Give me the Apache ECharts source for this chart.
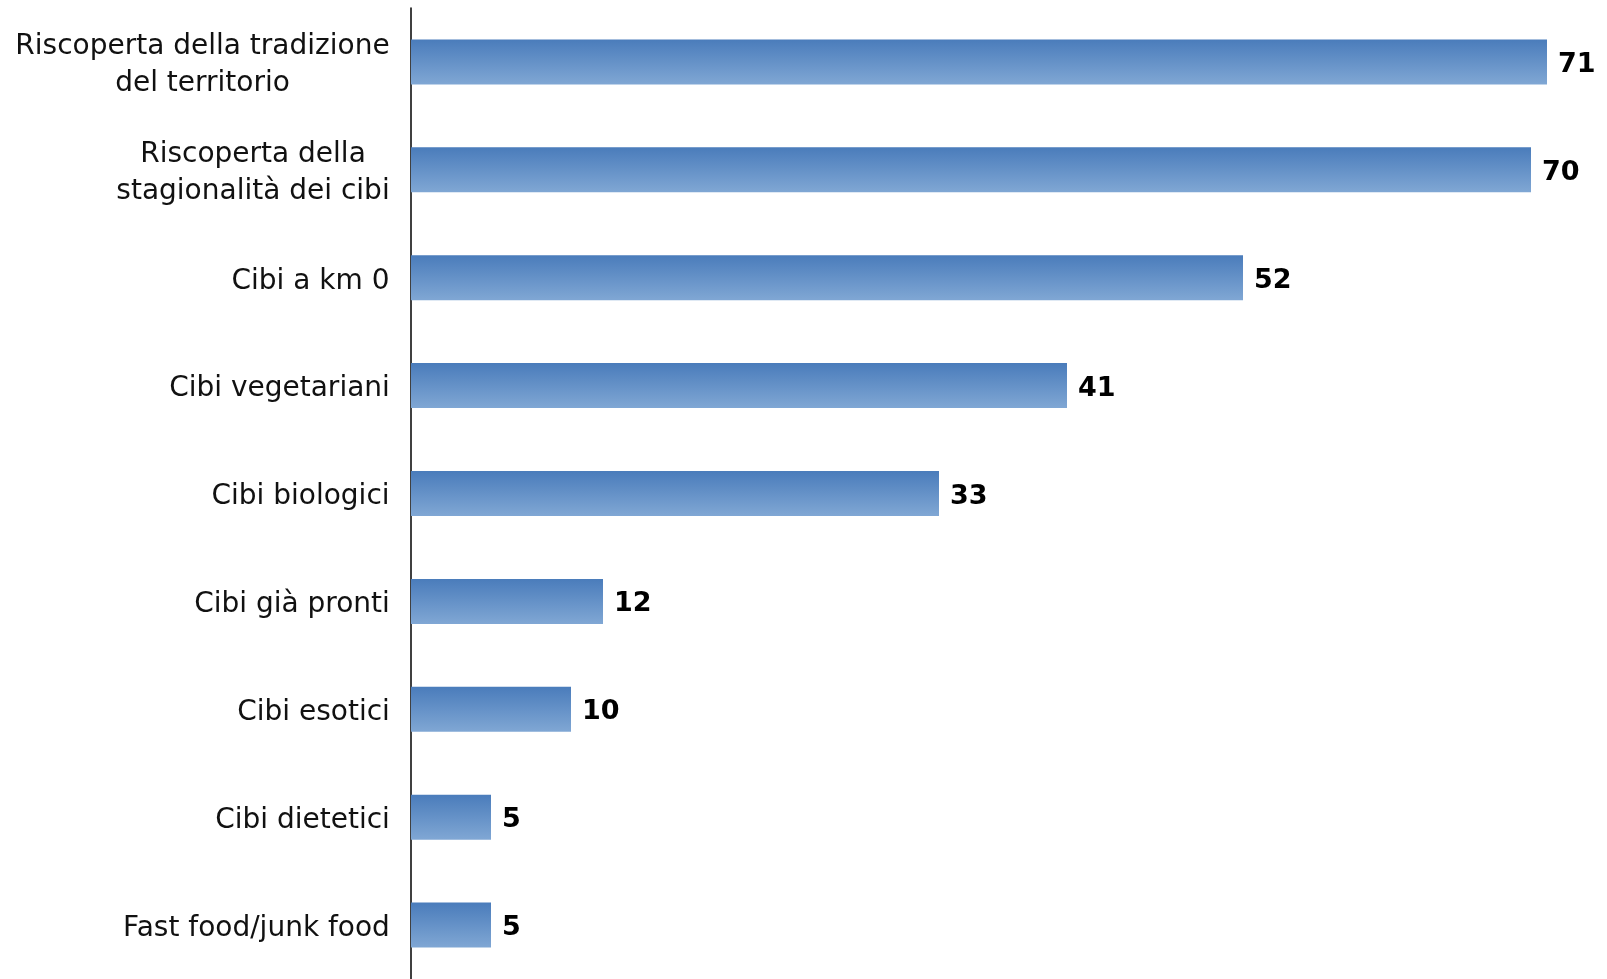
<!DOCTYPE html>
<html>
<head>
<meta charset="utf-8">
<script src="https://cdn.jsdelivr.net/npm/echarts@6/dist/echarts.min.js"></script>
<style>
html,body{margin:0;padding:0;background:#fff;}
#chart{width:1607px;height:979px;}
</style>
</head>
<body>
<div id="chart"></div>
<script>
const categories = [
  "Riscoperta della tradizione\ndel territorio",
  "Riscoperta della\nstagionalità dei cibi",
  "Cibi a km 0",
  "Cibi vegetariani",
  "Cibi biologici",
  "Cibi già pronti",
  "Cibi esotici",
  "Cibi dietetici",
  "Fast food/junk food"
];
const values = [71, 70, 52, 41, 33, 12, 10, 5, 5];

const FONT = "'DejaVu Sans', Verdana, sans-serif";
const LABEL_SIZE = 28;

// measure text to centre lines of multi-line labels inside a right-aligned block
const ctx = document.createElement('canvas').getContext('2d');
ctx.font = LABEL_SIZE + 'px ' + FONT;
const rich = {};
const fmtMap = {};
categories.forEach((c, i) => {
  const lines = c.split('\n');
  const w = Math.ceil(Math.max(...lines.map(l => ctx.measureText(l).width)));
  const key = 'c' + i;
  rich[key] = {width: w, align: 'center', fontSize: LABEL_SIZE, fontFamily: FONT, color: '#111', lineHeight: 37};
  fmtMap[c] = lines.map(l => '{' + key + '|' + l + '}').join('\n');
});

const chart = echarts.init(document.getElementById('chart'));
chart.setOption({
  animation: false,
  grid: {left: 411, top: 8, width: 1136, height: 971},
  xAxis: {
    type: 'value', min: 0, max: 71, show: false
  },
  yAxis: {
    type: 'category', data: categories, inverse: true,
    axisLine: {show: true, lineStyle: {color: '#000', width: 1.5}},
    axisTick: {show: false},
    axisLabel: {
      margin: 21, align: 'right', padding: [7, 0, 0, 0],
      formatter: v => fmtMap[v],
      rich: rich
    },
    splitLine: {show: false}
  },
  series: [{
    type: 'bar', data: values, barWidth: 45,
    itemStyle: {
      color: new echarts.graphic.LinearGradient(0, 0, 0, 1, [
        {offset: 0, color: '#4a7cbb'},
        {offset: 1, color: '#80a7d4'}
      ])
    },
    label: {
      show: true, position: 'right', distance: 11, offset: [0, 3],
      fontFamily: FONT, fontSize: 27, fontWeight: 'bold', color: '#000'
    }
  }]
});
</script>
</body>
</html>
